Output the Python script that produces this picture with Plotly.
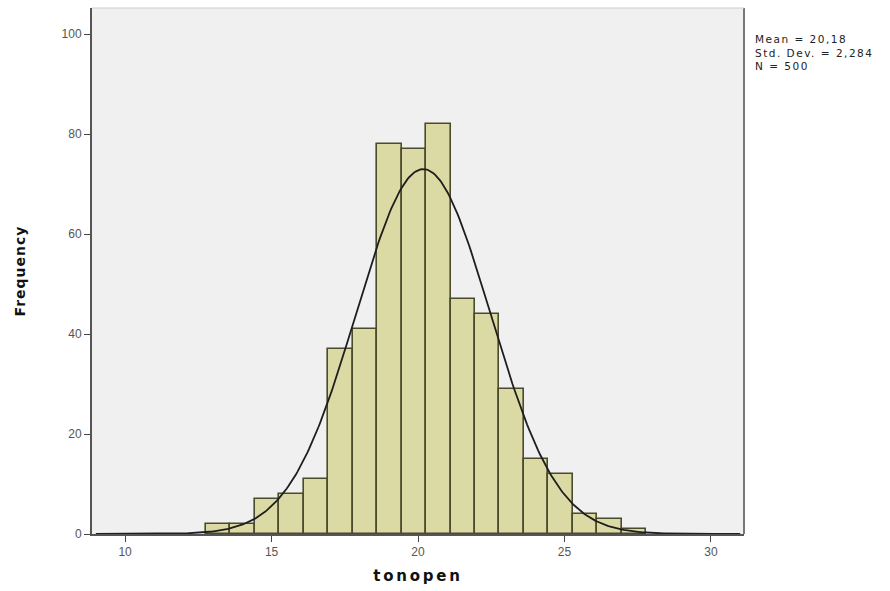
import numpy as np
import plotly.graph_objects as go

# Data
bin_start = 12.755
bin_width = 0.8355
counts = [2, 2, 7, 8, 11, 37, 41, 78, 77, 82, 47, 44, 29, 15, 12, 4, 3, 1]
mean_val = 20.18
std_val = 2.284
n_val = 500
x_ticks = [10, 15, 20, 25, 30]
y_ticks = [0, 20, 40, 60, 80, 100]
stat_lines = ["Mean = 20,18", "Std. Dev. = 2,284", "N = 500"]

centers = [bin_start + bin_width * (i + 0.5) for i in range(len(counts))]

xs = np.linspace(9.0, 31.0, 400)
curve = n_val * bin_width / (std_val * np.sqrt(2 * np.pi)) * np.exp(-0.5 * ((xs - mean_val) / std_val) ** 2)

fig = go.Figure()
fig.add_trace(go.Bar(
    x=centers, y=counts, width=bin_width,
    marker=dict(color="#dcdaa4", line=dict(color="#4a4a2c", width=1.6)),
    hoverinfo="x+y",
))
fig.add_trace(go.Scatter(
    x=xs, y=curve, mode="lines",
    line=dict(color="#1e1e1e", width=1.8),
    hoverinfo="skip",
))

title_font = "DejaVu Sans, Verdana, sans-serif"
stat_text = "<br>".join('<span style="letter-spacing:1.5px">' + t + '</span>' for t in stat_lines)

fig.update_layout(
    width=890, height=591,
    margin=dict(l=92, r=146, t=8, b=57),
    paper_bgcolor="white",
    plot_bgcolor="#f0f0f0",
    showlegend=False,
    bargap=0,
    font=dict(family="Liberation Sans, Arial, sans-serif", size=12, color="#555555"),
    xaxis=dict(
        range=[8.87, 31.13], tickvals=x_ticks, ticks="outside", ticklen=6,
        tickcolor="#444444", showgrid=False, zeroline=False,
        showline=True, linecolor="#555555", linewidth=2, mirror=False,
        title=dict(text='<b><span style="letter-spacing:2.8px">tonopen</span></b>',
                   font=dict(size=15, color="#111111", family=title_font), standoff=12),
        tickfont=dict(size=12, color="#555555"),
    ),
    yaxis=dict(
        range=[0, 105.2], tickvals=y_ticks, ticks="outside", ticklen=6,
        tickcolor="#444444", showgrid=False, zeroline=False,
        showline=True, linecolor="#555555", linewidth=2,
        title=dict(text='<b><span style="letter-spacing:1px">Frequency</span></b>',
                   font=dict(size=14, color="#111111", family=title_font), standoff=33),
        tickfont=dict(size=12, color="#555555"),
    ),
    shapes=[
        dict(type="line", xref="paper", yref="paper", x0=1, x1=1, y0=0, y1=1,
             line=dict(color="#777777", width=2)),
        dict(type="line", xref="paper", yref="paper", x0=0, x1=1, y0=1, y1=1,
             line=dict(color="#cccccc", width=1)),
    ],
    annotations=[dict(
        xref="paper", yref="paper", x=1.0145, y=(534 - 31) / 526,
        xanchor="left", yanchor="top", align="left", showarrow=False,
        text=stat_text,
        font=dict(size=10.5, color="#222222", family=title_font),
    )],
)

fig.write_html("out.html")
